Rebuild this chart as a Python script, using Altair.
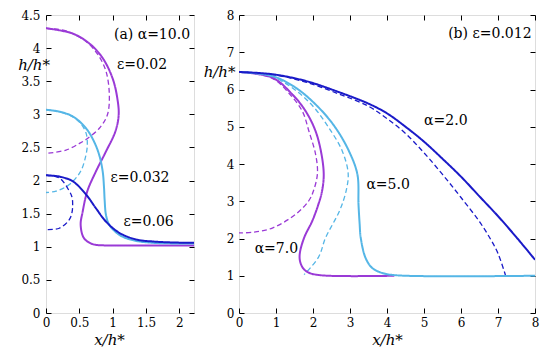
import altair as alt
import pandas as pd

# ---------------- Panel (a): alpha = 10.0 ----------------
a_e002_solid_x = [0, 0.4, 0.65, 0.85, 1.0, 1.07, 1.09, 1.04, 0.9, 0.75, 0.62, 0.55, 0.52, 0.57, 0.70, 0.9, 1.3, 2.22]
a_e002_solid_y = [4.30, 4.22, 4.07, 3.85, 3.54, 3.24, 2.99, 2.74, 2.44, 2.14, 1.84, 1.53, 1.33, 1.13, 1.04, 1.02, 1.02, 1.02]
a_e002_dash_x = [0, 0.3, 0.6, 0.78, 0.9, 0.95, 0.92, 0.8, 0.6, 0.5, 0.3, 0]
a_e002_dash_y = [4.30, 4.26, 4.10, 3.90, 3.65, 3.29, 2.99, 2.79, 2.62, 2.56, 2.46, 2.41]

a_e0032_solid_x = [0, 0.2, 0.4, 0.6, 0.72, 0.8, 0.85, 0.87, 0.88, 0.9, 0.95, 1.1, 1.3, 1.6, 2.22]
a_e0032_solid_y = [3.07, 3.04, 2.97, 2.79, 2.59, 2.38, 2.14, 1.90, 1.70, 1.48, 1.33, 1.18, 1.10, 1.06, 1.05]
a_e0032_dash_x = [0, 0.2, 0.4, 0.52, 0.6, 0.62, 0.6, 0.52, 0.35, 0.15, 0]
a_e0032_dash_y = [3.07, 3.04, 2.96, 2.86, 2.72, 2.55, 2.39, 2.14, 1.94, 1.84, 1.82]

a_e006_solid_x = [0, 0.2, 0.4, 0.6, 0.75, 0.9, 1.1, 1.35, 1.6, 1.9, 2.22]
a_e006_solid_y = [2.08, 2.06, 1.99, 1.79, 1.58, 1.38, 1.21, 1.11, 1.08, 1.065, 1.06]
a_e006_dash_x = [0, 0.2, 0.35, 0.39, 0.4, 0.39, 0.35, 0.2, 0]
a_e006_dash_y = [2.08, 2.04, 1.84, 1.75, 1.64, 1.52, 1.41, 1.28, 1.26]

# ---------------- Panel (b): epsilon = 0.012 ----------------
b_a2_solid_x = [0, 0.9, 1.8, 2.7, 3.5, 4.0, 4.5, 5.0, 5.5, 6.0, 6.5, 7.0, 7.5, 8.0]
b_a2_solid_y = [6.47, 6.41, 6.23, 5.93, 5.62, 5.36, 5.00, 4.60, 4.14, 3.66, 3.13, 2.60, 2.03, 1.43]
b_a2_dash_x = [0, 0.9, 1.8, 2.7, 3.5, 4.0, 4.5, 5.0, 5.5, 6.0, 6.5, 6.8, 7.0, 7.2]
b_a2_dash_y = [6.47, 6.40, 6.20, 5.88, 5.55, 5.22, 4.82, 4.30, 3.72, 3.10, 2.45, 1.98, 1.60, 1.02]

b_a5_solid_x = [0, 0.9, 1.53, 2.16, 2.61, 2.97, 3.2, 3.23, 3.26, 3.29, 3.42, 3.6, 3.87, 4.3, 8.0]
b_a5_solid_y = [6.47, 6.36, 6.05, 5.51, 4.97, 4.35, 3.72, 2.91, 2.40, 2.02, 1.48, 1.21, 1.075, 1.01, 1.0]
b_a5_dash_x = [0, 0.9, 1.5, 2.0, 2.43, 2.79, 2.95, 2.9, 2.72, 2.34, 2.15, 1.76]
b_a5_dash_y = [6.47, 6.34, 6.00, 5.55, 4.97, 4.35, 3.75, 3.30, 2.75, 2.02, 1.50, 1.03]

b_a7_solid_x = [0, 0.9, 1.44, 1.8, 2.07, 2.23, 2.29, 2.24, 2.14, 1.98, 1.76, 1.64, 1.66, 1.75, 1.89, 2.25, 4.2]
b_a7_solid_y = [6.47, 6.32, 5.87, 5.42, 4.88, 4.26, 3.70, 3.25, 2.90, 2.47, 2.02, 1.57, 1.35, 1.18, 1.08, 1.01, 1.0]
b_a7_dash_x = [0, 0.9, 1.35, 1.71, 1.89, 2.07, 2.12, 2.02, 1.89, 1.53, 0.9, 0.4, 0]
b_a7_dash_y = [6.47, 6.30, 5.90, 5.42, 4.88, 4.26, 3.75, 3.30, 3.02, 2.65, 2.28, 2.17, 2.15]

# annotation texts
a_text = ["(a) α=10.0", "ε=0.02", "ε=0.032", "ε=0.06"]
a_text_x = [1.59, 1.44, 1.41, 1.54]
a_text_y = [4.20, 3.75, 2.04, 1.38]
b_text = ["(b) ε=0.012", "α=2.0", "α=5.0", "α=7.0"]
b_text_x = [6.78, 5.59, 4.03, 1.01]
b_text_y = [7.48, 5.15, 3.43, 1.73]

DARK = "#1a1ac8"
LIGHT = "#55b6e6"
PURPLE = "#9a3ad6"
PURPLE_D = "#b8649e"
SERIF = "DejaVu Serif"


def build(curves):
    rows = []
    for key, style, xs, ys in curves:
        for i, (x, y) in enumerate(zip(xs, ys)):
            rows.append({"x": x, "y": y, "key": key, "style": style, "ord": i})
    return pd.DataFrame(rows)


df_a = build([
    ("a_e002_d", "dashed", a_e002_dash_x, a_e002_dash_y),
    ("a_e0032_d", "dashed", a_e0032_dash_x, a_e0032_dash_y),
    ("a_e006_d", "dashed", a_e006_dash_x, a_e006_dash_y),
    ("a_e002_s", "solid", a_e002_solid_x, a_e002_solid_y),
    ("a_e0032_s", "solid", a_e0032_solid_x, a_e0032_solid_y),
    ("a_e006_s", "solid", a_e006_solid_x, a_e006_solid_y),
])
col_a = {"a_e002_d": PURPLE, "a_e0032_d": LIGHT, "a_e006_d": DARK,
         "a_e002_s": PURPLE, "a_e0032_s": LIGHT, "a_e006_s": DARK}

df_b = build([
    ("b_a7_d", "dashed", b_a7_dash_x, b_a7_dash_y),
    ("b_a5_d", "dashed", b_a5_dash_x, b_a5_dash_y),
    ("b_a2_d", "dashed", b_a2_dash_x, b_a2_dash_y),
    ("b_a7_s", "solid", b_a7_solid_x, b_a7_solid_y),
    ("b_a5_s", "solid", b_a5_solid_x, b_a5_solid_y),
    ("b_a2_s", "solid", b_a2_solid_x, b_a2_solid_y),
])
col_b = {"b_a7_d": PURPLE_D, "b_a5_d": LIGHT, "b_a2_d": DARK,
         "b_a7_s": PURPLE, "b_a5_s": LIGHT, "b_a2_s": DARK}


def panel(df, colors, xdom, ydom, xticks, yticks, texts, tx, ty, w, h,
          ytitle_x, ytitle_y, xtitle_x, xtitle_y, ylabpad):
    xs = alt.Scale(domain=xdom, nice=False, zero=False)
    ys = alt.Scale(domain=ydom, nice=False, zero=False)
    common = dict(domain=False, grid=False, ticks=True, tickSize=5, offset=-5,
                  tickColor="black", tickWidth=1, format="~g",
                  labelFont=SERIF, labelFontSize=12, labelColor="black")
    xax = alt.Axis(values=xticks, orient="bottom", title="x/h*", labelPadding=4,
                   titleFont=SERIF, titleFontSize=15, titleFontStyle="italic",
                   titleFontWeight="normal", titleColor="black",
                   titleX=xtitle_x, titleY=xtitle_y, titleBaseline="middle",
                   labelFlush=False, **common)
    yax = alt.Axis(values=yticks, orient="left", title="h/h*", labelPadding=ylabpad,
                   titleFont=SERIF, titleFontSize=15, titleFontStyle="italic",
                   titleFontWeight="normal", titleColor="black", titleAngle=0,
                   titleAlign="right", titleBaseline="middle",
                   titleX=ytitle_x, titleY=ytitle_y, labelFlush=False, **common)
    xax2 = alt.Axis(values=xticks, orient="top", labels=False, title=None, **common)
    yax2 = alt.Axis(values=yticks, orient="right", labels=False, title=None, **common)

    keys = list(colors.keys())
    lines = alt.Chart(df).mark_line(interpolate="catmull-rom", clip=True).encode(
        x=alt.X("x:Q", scale=xs, axis=xax),
        y=alt.Y("y:Q", scale=ys, axis=yax),
        color=alt.Color("key:N", scale=alt.Scale(domain=keys, range=[colors[k] for k in keys]), legend=None),
        strokeDash=alt.StrokeDash("style:N", scale=alt.Scale(domain=["solid", "dashed"], range=[[1, 0], [5, 3]]), legend=None),
        strokeWidth=alt.StrokeWidth("style:N", scale=alt.Scale(domain=["solid", "dashed"], range=[2.0, 1.3]), legend=None),
        detail="key:N",
        order="ord:Q",
    )
    ghost = alt.Chart(df).mark_point(opacity=0).encode(
        x=alt.X("x:Q", scale=xs, axis=xax2),
        y=alt.Y("y:Q", scale=ys, axis=yax2),
    )
    tdf = pd.DataFrame({"x": tx, "y": ty, "t": texts})
    labels = alt.Chart(tdf).mark_text(font=SERIF, fontSize=14, color="black",
                                      align="center", baseline="middle").encode(
        x=alt.X("x:Q", scale=xs, axis=None),
        y=alt.Y("y:Q", scale=ys, axis=None),
        text="t:N",
    )
    return alt.layer(lines, ghost, labels).resolve_axis(
        x="independent", y="independent").properties(width=w, height=h)


left = panel(df_a, col_a, [0, 2.22], [0, 4.5], [0, 0.5, 1, 1.5, 2],
             [0, 0.5, 1, 1.5, 2, 2.5, 3, 3.5, 4, 4.5],
             a_text, a_text_x, a_text_y, 148, 298,
             -1.5, 49, 63, 31, 6)
right = panel(df_b, col_b, [0, 8], [0, 8], list(range(9)), list(range(9)),
              b_text, b_text_x, b_text_y, 296, 298,
              -9, 56, 148, 31, 5)

chart = alt.hconcat(left, right, spacing=45, bounds="flush").properties(
    padding={"left": 9, "top": 0, "right": 0, "bottom": 0}
).configure_view(stroke="black", strokeWidth=1.3).configure(background="white")

chart.save("out.html", embed_options={"renderer": "svg", "actions": False})
